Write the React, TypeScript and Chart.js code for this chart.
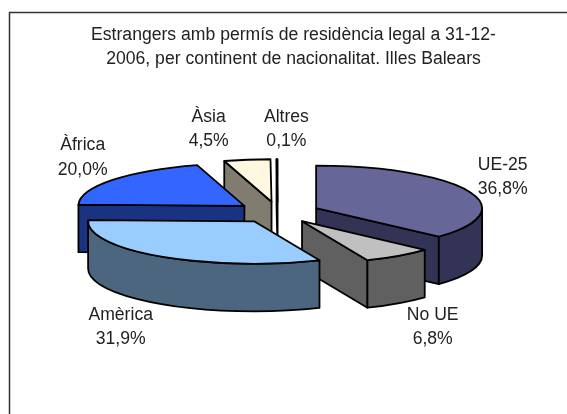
import React, { useEffect, useRef } from "react";
import { Chart, registerables } from "chart.js";

Chart.register(...registerables);

const categories = ["UE-25", "No UE", "Amèrica", "Àfrica", "Àsia", "Altres"];
const shares = [36.8, 6.8, 31.9, 20.0, 4.5, 0.1];
const topColors = ["#666699", "#C0C0C0", "#99CCFF", "#3366FF", "#FFF7DF", "#FFFFFF"];
const wallColors = ["#333355", "#606060", "#4D6680", "#1A3380", "#807C70", "#808080"];
const titleLines = [
  "Estrangers amb permís de residència legal a 31-12-",
  "2006, per continent de nacionalitat. Illes Balears",
];

const FONT = '"Liberation Sans", Arial, sans-serif';
const TEXT_SIZE = 17.6;
const TILT = 0.256;
const DEPTH = 47.5;
const RADIUS = 166;
const EXPLODE = 42;
const TITLE_CENTER = 293.5;
const LABEL_GAP = 12.2;
// label centre relative to the centre of the pie
const labelShift = [
  [225, -35.2],
  [155, 114.8],
  [-157, 114.8],
  [-195, -54.9],
  [-69, -83.2],
  [8.7, -83.2],
];

const pie3d = {
  id: "pie3d",
  afterLayout(chart: any) {
    const t = chart.titleBlock;
    if (t) {
      const half = t.right - t.left;
      t.left = TITLE_CENTER - half / 2;
      t.right = TITLE_CENTER + half / 2;
    }
  },
  beforeDraw(chart: any) {
    const { ctx } = chart;
    ctx.save();
    ctx.fillStyle = "#FFFFFF";
    ctx.fillRect(0, 0, chart.width, chart.height);
    ctx.strokeStyle = "#333333";
    ctx.lineWidth = 1.5;
    ctx.beginPath();
    ctx.moveTo(9.5, chart.height);
    ctx.lineTo(9.5, 12.5);
    ctx.lineTo(chart.width, 12.5);
    ctx.stroke();
    ctx.restore();
  },
  beforeDatasetDraw(chart: any) {
    const { ctx } = chart;
    const arcs = chart.getDatasetMeta(0).data.map((arc: any, i: number) => {
      const mid = (arc.startAngle + arc.endAngle) / 2;
      const off = arc.options.offset;
      return {
        i,
        arc,
        ax: arc.x + off * Math.cos(mid),
        ay: arc.y + off * TILT * Math.sin(mid),
      };
    });
    arcs.sort((a: any, b: any) => a.ay - b.ay);
    ctx.save();
    ctx.lineJoin = "round";
    ctx.lineWidth = 1.8;
    ctx.strokeStyle = "#000000";
    for (const { i, arc, ax, ay } of arcs) {
      const R = arc.outerRadius;
      const a0 = arc.startAngle;
      const a1 = arc.endAngle;
      const rim = (t: number) => [ax + R * Math.cos(t), ay + R * TILT * Math.sin(t)];
      ctx.fillStyle = wallColors[i];
      // radial walls that face the viewer
      const faces = [
        [a0, -Math.cos(a0)],
        [a1, Math.cos(a1)],
      ];
      for (const [t, facing] of faces) {
        if (facing <= 0) continue;
        const [px, py] = rim(t);
        ctx.beginPath();
        ctx.moveTo(ax, ay);
        ctx.lineTo(px, py);
        ctx.lineTo(px, py + DEPTH);
        ctx.lineTo(ax, ay + DEPTH);
        ctx.closePath();
        ctx.fill();
        ctx.stroke();
      }
      // outer wall: only the front half of the rim faces the viewer
      for (const k of [-2, 0, 2]) {
        const s = Math.max(a0, k * Math.PI);
        const e = Math.min(a1, (k + 1) * Math.PI);
        if (e > s) {
          ctx.beginPath();
          ctx.ellipse(ax, ay, R, R * TILT, 0, s, e);
          ctx.ellipse(ax, ay + DEPTH, R, R * TILT, 0, e, s, true);
          ctx.closePath();
          ctx.fill();
          ctx.stroke();
        }
      }
      // top face
      ctx.fillStyle = arc.options.backgroundColor;
      ctx.beginPath();
      ctx.moveTo(ax, ay);
      ctx.ellipse(ax, ay, R, R * TILT, 0, a0, a1);
      ctx.closePath();
      ctx.fill();
      ctx.stroke();
    }
    ctx.restore();
    return false;
  },
  afterDatasetsDraw(chart: any) {
    const { ctx } = chart;
    const first = chart.getDatasetMeta(0).data[0];
    ctx.save();
    ctx.fillStyle = "#222222";
    ctx.font = `${TEXT_SIZE}px ${FONT}`;
    ctx.textAlign = "center";
    ctx.textBaseline = "middle";
    categories.forEach((name, i) => {
      const x = first.x + labelShift[i][0];
      const y = first.y + labelShift[i][1];
      ctx.fillText(name, x, y - LABEL_GAP);
      ctx.fillText(`${shares[i].toFixed(1).replace(".", ",")}%`, x, y + LABEL_GAP);
    });
    ctx.restore();
  },
};

export default function App() {
  const ref = useRef<HTMLCanvasElement>(null);
  useEffect(() => {
    const chart = new Chart(ref.current!, {
      type: "pie",
      data: {
        labels: categories,
        datasets: [
          {
            data: shares,
            backgroundColor: topColors,
            borderWidth: 0,
            offset: EXPLODE,
          },
        ],
      },
      options: {
        animation: false,
        responsive: false,
        radius: RADIUS,
        layout: { padding: { left: 0, right: 11.6, top: 0, bottom: 60.65 } },
        plugins: {
          legend: { display: false },
          tooltip: { enabled: false },
          title: {
            display: true,
            text: titleLines,
            color: "#222222",
            font: { family: FONT, size: TEXT_SIZE, weight: "normal", lineHeight: 1.38 },
            padding: { top: 22.85, bottom: 0 },
          },
        },
      },
      plugins: [pie3d],
    } as any);
    return () => chart.destroy();
  }, []);
  return (
    <div style={{ position: "absolute", left: 0, top: 0, width: 567, height: 414, overflow: "hidden" }}>
      <canvas ref={ref} width={567} height={414} style={{ display: "block" }} />
    </div>
  );
}
